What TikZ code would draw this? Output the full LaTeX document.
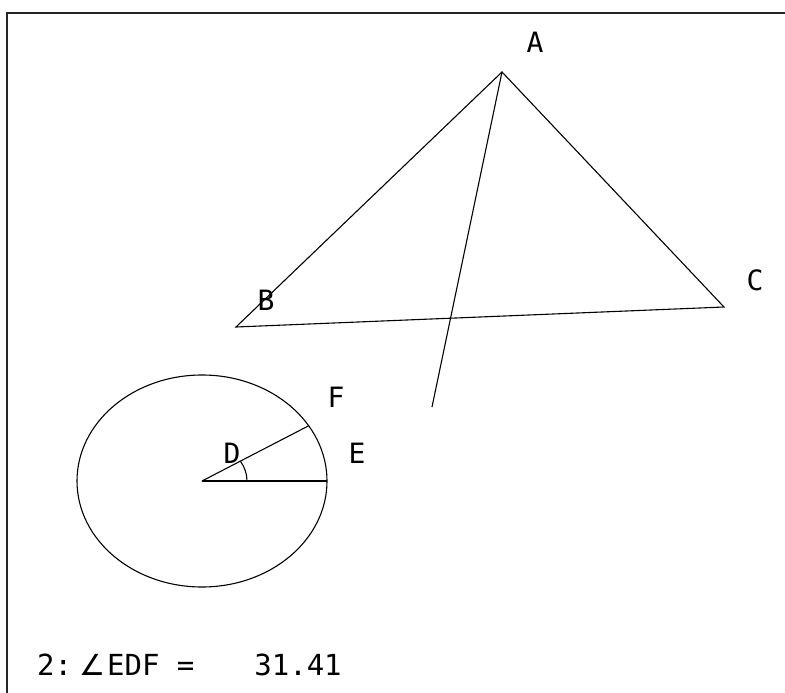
\documentclass[tikz,border=0pt]{standalone}
\usepackage{fontspec}
\setmainfont{DejaVu Sans Mono}
\newfontfamily\symfam{DejaVu Sans}
\begin{document}
\begin{tikzpicture}[x=1pt,y=-1pt,
  geo/.style={line width=1.1pt,black},
  lbl/.style={font=\fontsize{28}{28}\selectfont,inner sep=0pt},
  frameline/.style={line width=2pt,black!85}]
\useasboundingbox (0,0) rectangle (785,693);
\fill[white] (0,0) rectangle (785,693);
% frame (top and left edges)
\coordinate (f1) at (7,693);
\coordinate (f2) at (7,13.5);
\coordinate (f3) at (785,13.5);
\draw[frameline] (f1) -- (f2) -- (f3);
% triangle
\coordinate (A) at (502,72);
\coordinate (B) at (236,327);
\coordinate (C) at (724,307);
\coordinate (G) at (432,407);
\draw[geo] (A) -- (B) -- (C) -- cycle;
\draw[geo] (A) -- (G);
% ellipse
\coordinate (D) at (202,481);
\coordinate (E) at (327,481);
\coordinate (F) at ({202+125*cos(31.41)},{481-106*sin(31.41)});
\coordinate (Ar) at (247,481);
\draw[geo] (D) ellipse [x radius=125, y radius=106];
\draw[geo] (D) -- (E);
\draw[geo] (D) -- (F);
\draw[geo] (Ar) arc[start angle=0, end angle=-31.41, x radius=45, y radius=38];
% labels
\node[lbl] (lA) at (535,42) {A};
\node[lbl] (lB) at (266,300) {B};
\node[lbl] (lC) at (755,280) {C};
\node[lbl] (lD) at (232,453) {D};
\node[lbl] (lE) at (357,453) {E};
\node[lbl] (lF) at (336,397) {F};
\node[lbl,font=\fontsize{29}{29}\selectfont,anchor=base west] (res) at (37,675)
  {2:\makebox[35pt][r]{\symfam ∠\hspace*{2pt}}EDF =\hspace*{60pt}31.41};
\end{tikzpicture}
\end{document}
